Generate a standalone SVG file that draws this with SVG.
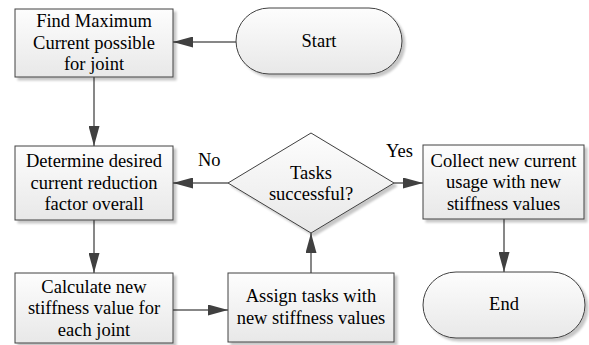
<svg xmlns="http://www.w3.org/2000/svg" width="589" height="345" viewBox="0 0 589 345">
<style>
.box{fill:url(#g);stroke:#404040;stroke-width:1;filter:url(#sh)}
.t{font-family:'Liberation Serif','DejaVu Serif',serif;font-size:18.5px;fill:#000;text-anchor:middle}
.lbl{font-family:'Liberation Serif','DejaVu Serif',serif;font-size:18.5px;fill:#000}
.c{fill:none;stroke:#5f5f5f;stroke-width:1.5;marker-end:url(#ah)}
</style>
<defs>
<linearGradient id="g" x1="0" y1="0" x2="0" y2="1">
<stop offset="0" stop-color="#fdfdfd"/>
<stop offset="1" stop-color="#e8e8e8"/>
</linearGradient>
<filter id="sh" x="-10%" y="-10%" width="130%" height="130%">
<feDropShadow dx="3" dy="3" stdDeviation="1" flood-color="#000" flood-opacity="0.22"/>
</filter>
<marker id="ah" markerUnits="userSpaceOnUse" markerWidth="20" markerHeight="11" refX="20" refY="5.5" orient="auto">
<path d="M0,0 L20,5.5 L0,11 Z" fill="#404040"/>
</marker>
</defs>
<rect width="589" height="345" fill="#fff"/>
<g id="connectors">
<line class="c" x1="236" y1="42" x2="173" y2="42"/>
<line class="c" x1="94" y1="77" x2="94" y2="146"/>
<line class="c" x1="94" y1="220" x2="94" y2="273"/>
<line class="c" x1="173" y1="310" x2="228" y2="310"/>
<line class="c" x1="311" y1="273" x2="311" y2="233"/>
<line class="c" x1="228" y1="183" x2="173" y2="183"/>
<line class="c" x1="394" y1="183" x2="423" y2="183"/>
<line class="c" x1="504" y1="219" x2="504" y2="272"/>
<text class="lbl" x="198" y="166" font-family="Liberation Serif, serif">No</text>
<text class="lbl" x="386" y="157">Yes</text>
</g>
<g id="start">
<rect class="box" x="236" y="8" width="166" height="66" rx="33" ry="33"/>
<text class="t" x="319" y="46.5">Start</text>
</g>
<g id="find-max">
<rect class="box" x="15" y="9" width="158" height="68"/>
<text class="t" x="94" y="27">Find Maximum</text>
<text class="t" x="94" y="48.5">Current possible</text>
<text class="t" x="94" y="70">for joint</text>
</g>
<g id="determine">
<rect class="box" x="15" y="146" width="158" height="74"/>
<text class="t" x="94" y="167">Determine desired</text>
<text class="t" x="94" y="188.5">current reduction</text>
<text class="t" x="94" y="210">factor overall</text>
</g>
<g id="calculate">
<rect class="box" x="15" y="273" width="158" height="70"/>
<text class="t" x="94" y="292.5">Calculate new</text>
<text class="t" x="94" y="314">stiffness value for</text>
<text class="t" x="94" y="335.5">each joint</text>
</g>
<g id="assign">
<rect class="box" x="228" y="273" width="166" height="69"/>
<text class="t" x="311" y="302">Assign tasks with</text>
<text class="t" x="311" y="323.5">new stiffness values</text>
</g>
<g id="decision">
<polygon class="box" points="311,133 394,183 311,233 228,183"/>
<text class="t" x="311" y="178.5">Tasks</text>
<text class="t" x="311" y="200">successful?</text>
</g>
<g id="collect">
<rect class="box" x="423" y="145" width="161" height="74"/>
<text class="t" x="503.5" y="166.5">Collect new current</text>
<text class="t" x="503.5" y="188">usage with new</text>
<text class="t" x="503.5" y="209.5">stiffness values</text>
</g>
<g id="end">
<rect class="box" x="423" y="272" width="162" height="66" rx="33" ry="33"/>
<text class="t" x="504" y="310">End</text>
</g>
</svg>
